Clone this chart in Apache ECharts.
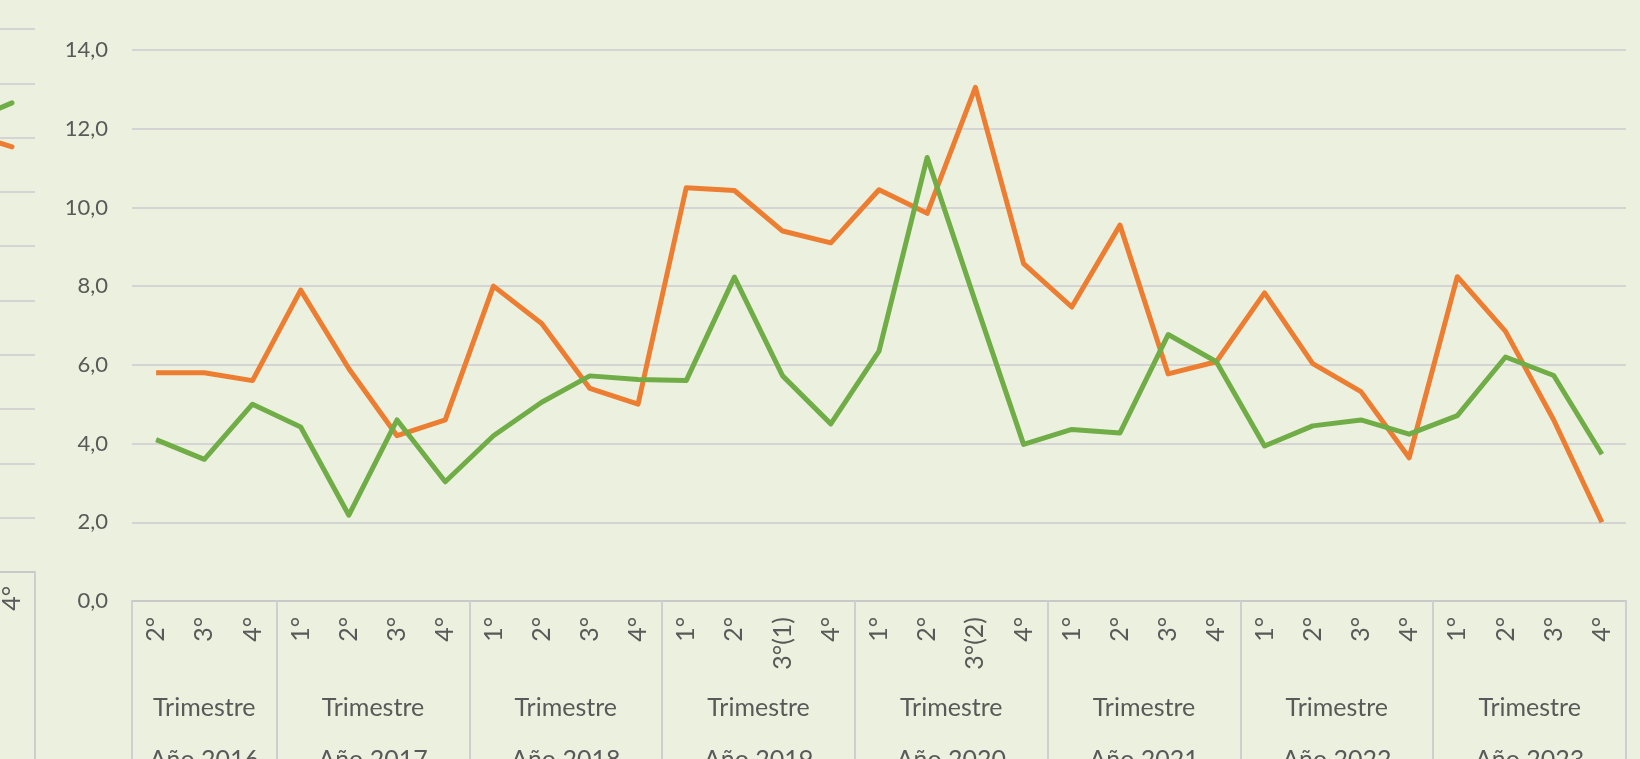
<!DOCTYPE html>
<html>
<head>
<meta charset="utf-8">
<script src="https://cdn.jsdelivr.net/npm/echarts@6/dist/echarts.min.js"></script>
<style>
  html, body { margin: 0; padding: 0; background: #EBF1DE; }
  #main { width: 1640px; height: 759px; }
</style>
</head>
<body>
<div id="main"></div>
<script>
// datos
var years = ['Año 2016', 'Año 2017', 'Año 2018', 'Año 2019', 'Año 2020', 'Año 2021', 'Año 2022', 'Año 2023'];
var yearQuarters = [
  ['2°', '3°', '4°'],
  ['1°', '2°', '3°', '4°'],
  ['1°', '2°', '3°', '4°'],
  ['1°', '2°', '3°(1)', '4°'],
  ['1°', '2°', '3°(2)', '4°'],
  ['1°', '2°', '3°', '4°'],
  ['1°', '2°', '3°', '4°'],
  ['1°', '2°', '3°', '4°']
];
var serieNaranja = [5.8, 5.8, 5.6, 7.9, 5.9, 4.2, 4.6, 8.0, 7.05, 5.4, 5.0, 10.5, 10.43, 9.4, 9.1,
  10.45, 9.85, 13.05, 8.57, 7.47, 9.55, 5.77, 6.08, 7.83, 6.03, 5.32, 3.64, 8.24, 6.85, 4.6, 2.0];
var serieVerde = [4.1, 3.6, 5.0, 4.42, 2.18, 4.6, 3.03, 4.2, 5.05, 5.72, 5.63, 5.6, 8.23, 5.72, 4.5,
  6.35, 11.27, 7.6, 3.98, 4.36, 4.27, 6.77, 6.08, 3.94, 4.45, 4.6, 4.24, 4.71, 6.2, 5.73, 3.73];

// fragmento del gráfico vecino (borde izquierdo)
var prevQuarters = ['3°', '4°'];
var prevNaranja = [8.1, 7.83];
var prevVerde = [8.27, 8.64];

var textColor = '#595959', gridColor = '#D4D4D4', font = 'Lato';

// categorías y cortes por año
var categories = [], groupEdges = [0], groupCenters = [];
years.forEach(function (y, i) {
  yearQuarters[i].forEach(function (q) { categories.push(y + '|' + q); });
  groupCenters.push(groupEdges[i] + yearQuarters[i].length / 2);
  groupEdges.push(groupEdges[i] + yearQuarters[i].length);
});

var chart = echarts.init(document.getElementById('main'), null, { renderer: 'canvas' });

chart.setOption({
  backgroundColor: '#EBF1DE',
  animation: false,
  grid: [
    { left: 132, right: 14, top: 50, bottom: 158, outerBoundsMode: 'none', containLabel: false },
    { left: -57, width: 92, top: 29, bottom: 187, outerBoundsMode: 'none', containLabel: false }
  ],
  xAxis: [{
    type: 'category',
    gridIndex: 0,
    data: categories,
    boundaryGap: true,
    axisLine: { lineStyle: { color: '#C8C8C8', width: 2 } },
    axisTick: { show: false },
    axisLabel: {
      rotate: 90,
      margin: 16,
      color: textColor,
      fontFamily: font,
      fontSize: 25,
      formatter: function (v) { return v.split('|')[1]; }
    }
  }, {
    type: 'value',
    gridIndex: 0,
    position: 'bottom',
    min: 0,
    max: categories.length,
    axisLine: { show: false },
    splitLine: { show: false },
    axisTick: {
      show: true,
      customValues: groupEdges,
      length: 160,
      lineStyle: { color: '#CFCFCF', width: 2 }
    },
    axisLabel: {
      customValues: groupCenters,
      margin: 81,
      color: textColor,
      fontFamily: font,
      fontSize: 25,
      lineHeight: 52,
      formatter: function (v) {
        var i = groupCenters.indexOf(v);
        return i < 0 ? '' : 'Trimestre\n' + years[i];
      }
    }
  }, {
    type: 'category',
    gridIndex: 1,
    data: prevQuarters,
    axisLine: { lineStyle: { color: '#C8C8C8', width: 2 } },
    axisTick: { show: true, length: 200, lineStyle: { color: '#CFCFCF', width: 2 } },
    axisLabel: { rotate: 90, margin: 14, color: textColor, fontFamily: font, fontSize: 25 }
  }],
  yAxis: [{
    type: 'value',
    gridIndex: 0,
    min: 0,
    max: 14,
    interval: 2,
    axisLine: { show: false },
    axisTick: { show: false },
    splitLine: { lineStyle: { color: gridColor, width: 2 } },
    axisLabel: {
      margin: 24,
      color: textColor,
      fontFamily: font,
      fontSize: 22,
      formatter: function (v) { return v.toFixed(1).replace('.', ','); }
    }
  }, {
    type: 'value',
    gridIndex: 1,
    min: 0,
    max: 10,
    interval: 1,
    axisLine: { show: false },
    axisTick: { show: false },
    axisLabel: { show: false },
    splitLine: { lineStyle: { color: gridColor, width: 2 } }
  }],
  series: [{
    name: 'Naranja',
    type: 'line',
    xAxisIndex: 0, yAxisIndex: 0,
    data: serieNaranja,
    symbol: 'none',
    lineStyle: { color: '#ED7D31', width: 5, join: 'round' }
  }, {
    name: 'Verde',
    type: 'line',
    xAxisIndex: 0, yAxisIndex: 0,
    data: serieVerde,
    symbol: 'none',
    lineStyle: { color: '#70AD47', width: 5, join: 'round' }
  }, {
    type: 'line',
    xAxisIndex: 2, yAxisIndex: 1,
    data: prevNaranja,
    symbol: 'none',
    lineStyle: { color: '#ED7D31', width: 5, cap: 'round' }
  }, {
    type: 'line',
    xAxisIndex: 2, yAxisIndex: 1,
    data: prevVerde,
    symbol: 'none',
    lineStyle: { color: '#70AD47', width: 5, cap: 'round' }
  }]
});
</script>
</body>
</html>
